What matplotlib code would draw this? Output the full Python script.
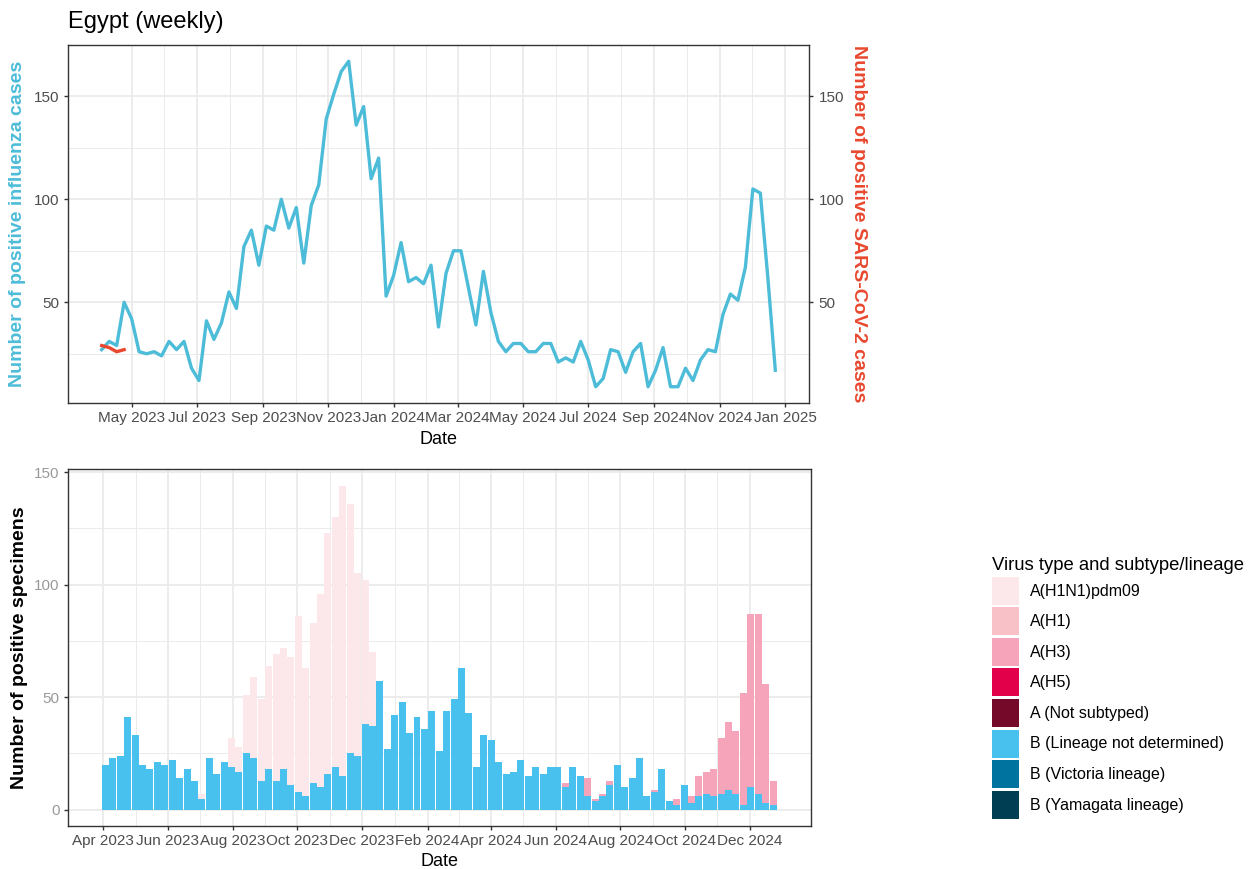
import numpy as np
import pandas as pd
import matplotlib
matplotlib.use("Agg")
import matplotlib.pyplot as plt
import matplotlib.dates as mdates
from matplotlib.patches import Patch

plt.rcParams['font.family'] = ['Liberation Sans', 'DejaVu Sans']

# weekly data, Egypt
weeks = pd.date_range('2023-04-03', periods=91, freq='7D')

flu_cases = [27, 31, 29, 50, 42, 26, 25, 26, 24, 31,
             27, 31, 18, 12, 41, 32, 40, 55, 47, 77,
             85, 68, 87, 85, 100, 86, 96, 69, 97, 107,
             139, 151, 162, 167, 136, 145, 110, 120, 53, 63,
             79, 60, 62, 59, 68, 38, 64, 75, 75, 57,
             39, 65, 45, 31, 26, 30, 30, 26, 26, 30,
             30, 21, 23, 21, 31, 22, 9, 13, 27, 26,
             16, 26, 30, 9, 17, 28, 9, 9, 18, 12,
             22, 27, 26, 44, 54, 51, 67, 105, 103, 62,
             17]
sars_weeks = weeks[:4]
sars_cases = [29, 28, 26, 27]

b_lineage_nd = [20, 23, 24, 41, 33, 20, 18, 21, 20, 22,
                14, 18, 13, 5, 23, 16, 21, 19, 17, 25,
                23, 13, 18, 13, 18, 11, 8, 6, 12, 10,
                16, 19, 15, 25, 24, 38, 37, 57, 27, 42,
                48, 34, 41, 36, 44, 26, 44, 49, 63, 43,
                19, 33, 31, 21, 16, 17, 22, 15, 19, 16,
                19, 19, 10, 19, 15, 6, 4, 6, 11, 20,
                10, 14, 23, 6, 8, 18, 4, 2, 11, 3,
                6, 7, 6, 7, 9, 7, 2, 10, 7, 3,
                2]
a_h1n1pdm09 = [0, 0, 0, 0, 0, 0, 0, 0, 0, 0,
               0, 0, 0, 2, 0, 0, 0, 13, 11, 26,
               36, 36, 46, 56, 54, 57, 78, 57, 71, 86,
               107, 111, 129, 111, 81, 64, 33, 0, 0, 0,
               0, 0, 0, 0, 0, 0, 0, 0, 0, 0,
               0, 0, 0, 0, 0, 0, 0, 0, 0, 0,
               0, 0, 0, 0, 0, 0, 0, 0, 0, 0,
               0, 0, 0, 0, 0, 0, 0, 0, 0, 0,
               0, 0, 0, 0, 0, 0, 0, 0, 0, 0,
               0]
a_h3 = [0, 0, 0, 0, 0, 0, 0, 0, 0, 0,
        0, 0, 0, 0, 0, 0, 0, 0, 0, 0,
        0, 0, 0, 0, 0, 0, 0, 0, 0, 0,
        0, 0, 0, 0, 0, 0, 0, 0, 0, 0,
        0, 0, 0, 0, 0, 0, 0, 0, 0, 0,
        0, 0, 0, 0, 0, 0, 0, 0, 0, 0,
        0, 0, 2, 0, 0, 8, 1, 1, 2, 0,
        0, 0, 0, 0, 1, 0, 0, 3, 0, 3,
        9, 10, 12, 25, 30, 28, 50, 77, 80, 53,
        11]
zeros = [0] * 91

legend_labels = ['A(H1N1)pdm09', 'A(H1)', 'A(H3)', 'A(H5)', 'A (Not subtyped)',
                 'B (Lineage not determined)', 'B (Victoria lineage)', 'B (Yamagata lineage)']
legend_colors = ['#FCE7EB', '#F8C0C7', '#F5A4B9', '#E3004A', '#74092A',
                 '#48C1EE', '#00739E', '#003F53']
series = [a_h1n1pdm09, zeros, a_h3, zeros, zeros, b_lineage_nd, zeros, zeros]

line_blue = '#4DBCD8'
line_red = '#E8482F'
grid_c = '#EBEBEB'
frame_c = '#333333'
tick_c = '#4D4D4D'

fig = plt.figure(figsize=(12.55, 8.69), dpi=100)
ax1 = fig.add_axes([68 / 1255, 1 - 403 / 869, 741 / 1255, 358 / 869])
ax2 = fig.add_axes([68 / 1255, 1 - 826 / 869, 742.5 / 1255, 356.7 / 869])


def style(ax, months):
    ax.xaxis.set_major_locator(mdates.MonthLocator(bymonth=months))
    ax.xaxis.set_major_formatter(mdates.DateFormatter('%b %Y'))
    maj = ax.get_xticks()
    ax.set_xticks((maj[:-1] + maj[1:]) / 2, minor=True)
    ax.set_yticks([25, 75, 125], minor=True)
    ax.grid(True, which='major', color=grid_c, lw=1.3)
    ax.grid(True, which='minor', color=grid_c, lw=0.7)
    ax.set_axisbelow(True)
    for s in ax.spines.values():
        s.set_color(frame_c)
        s.set_linewidth(1.0)
    ax.tick_params(which='major', length=3, width=1.0, color=frame_c,
                   labelcolor=tick_c, labelsize=11, pad=3)
    ax.tick_params(which='minor', length=0)


# top panel: lines
ax1.plot(weeks, flu_cases, color=line_blue, lw=2.4, solid_joinstyle='round')
ax1.plot(sars_weeks, sars_cases, color=line_red, lw=2.4)
ax1.margins(x=0.05, y=0.05)
lo, hi = ax1.get_ylim()
ax1.set_yticks([50, 100, 150])
style(ax1, [1, 3, 5, 7, 9, 11])
ax1.set_xlim(mdates.date2num(weeks[0]) - 0.05 * (weeks[-1] - weeks[0]).days,
             mdates.date2num(weeks[-1]) + 0.05 * (weeks[-1] - weeks[0]).days)
ax1.set_ylim(lo, hi)
ax1r = ax1.twinx()
ax1r.set_ylim(lo, hi)
ax1r.set_yticks([50, 100, 150])
ax1r.tick_params(length=3, width=1.0, color=frame_c, labelcolor=tick_c, labelsize=11, pad=4)
for s in ax1r.spines.values():
    s.set_visible(False)

ax1.set_ylabel('Number of positive influenza cases', color=line_blue,
               fontsize=14, fontweight='bold', va='center')
ax1.yaxis.set_label_coords((17.5 - 68) / 741, 0.5)
ax1r.set_ylabel('Number of positive SARS-CoV-2 cases', color=line_red,
                fontsize=14, fontweight='bold', rotation=270, va='center')
ax1r.yaxis.set_label_coords((858 - 68) / 741, 0.5)
ax1.set_xlabel('Date', fontsize=13, va='center')
ax1.xaxis.set_label_coords(0.5, (403 - 439) / 358)
fig.text(68 / 1255, 1 - 22 / 869, 'Egypt (weekly)', fontsize=17, va='center', ha='left')

# bottom panel: stacked bars
bottom = np.zeros(91)
for vals, col in zip(series[::-1], legend_colors[::-1]):
    ax2.bar(weeks, vals, width=6.6, bottom=bottom, color=col, linewidth=0)
    bottom += np.array(vals)
top = bottom.max()
ax2.set_ylim(-0.05 * top, 1.05 * top)
ax2.set_xlim(mdates.date2num(weeks[0]) - 3.5 - 0.05 * ((weeks[-1] - weeks[0]).days + 7),
             mdates.date2num(weeks[-1]) + 3.5 + 0.05 * ((weeks[-1] - weeks[0]).days + 7))
ax2.set_yticks([0, 50, 100, 150])
style(ax2, [2, 4, 6, 8, 10, 12])
ax2.tick_params(axis='y', labelcolor='#999999')
ax2.set_ylabel('Number of positive specimens', fontsize=14, fontweight='bold', va='center')
ax2.yaxis.set_label_coords((20 - 68) / 742.5, 0.5)
ax2.set_xlabel('Date', fontsize=13, va='center')
ax2.xaxis.set_label_coords(0.5, (826 - 862) / 356.7)

handles = [Patch(facecolor=c, edgecolor='none') for c in legend_colors]
leg = fig.legend(handles, legend_labels, loc='upper left',
                 bbox_to_anchor=(981 / 1255, 1 - 546 / 869),
                 frameon=False, fontsize=11.5, title='Virus type and subtype/lineage',
                 title_fontsize=13.3, alignment='left', handlelength=1.7,
                 handleheight=2.32, labelspacing=0.16, handletextpad=0.65,
                 borderpad=0.2)

fig.savefig('out.png', dpi=100, facecolor='white')
